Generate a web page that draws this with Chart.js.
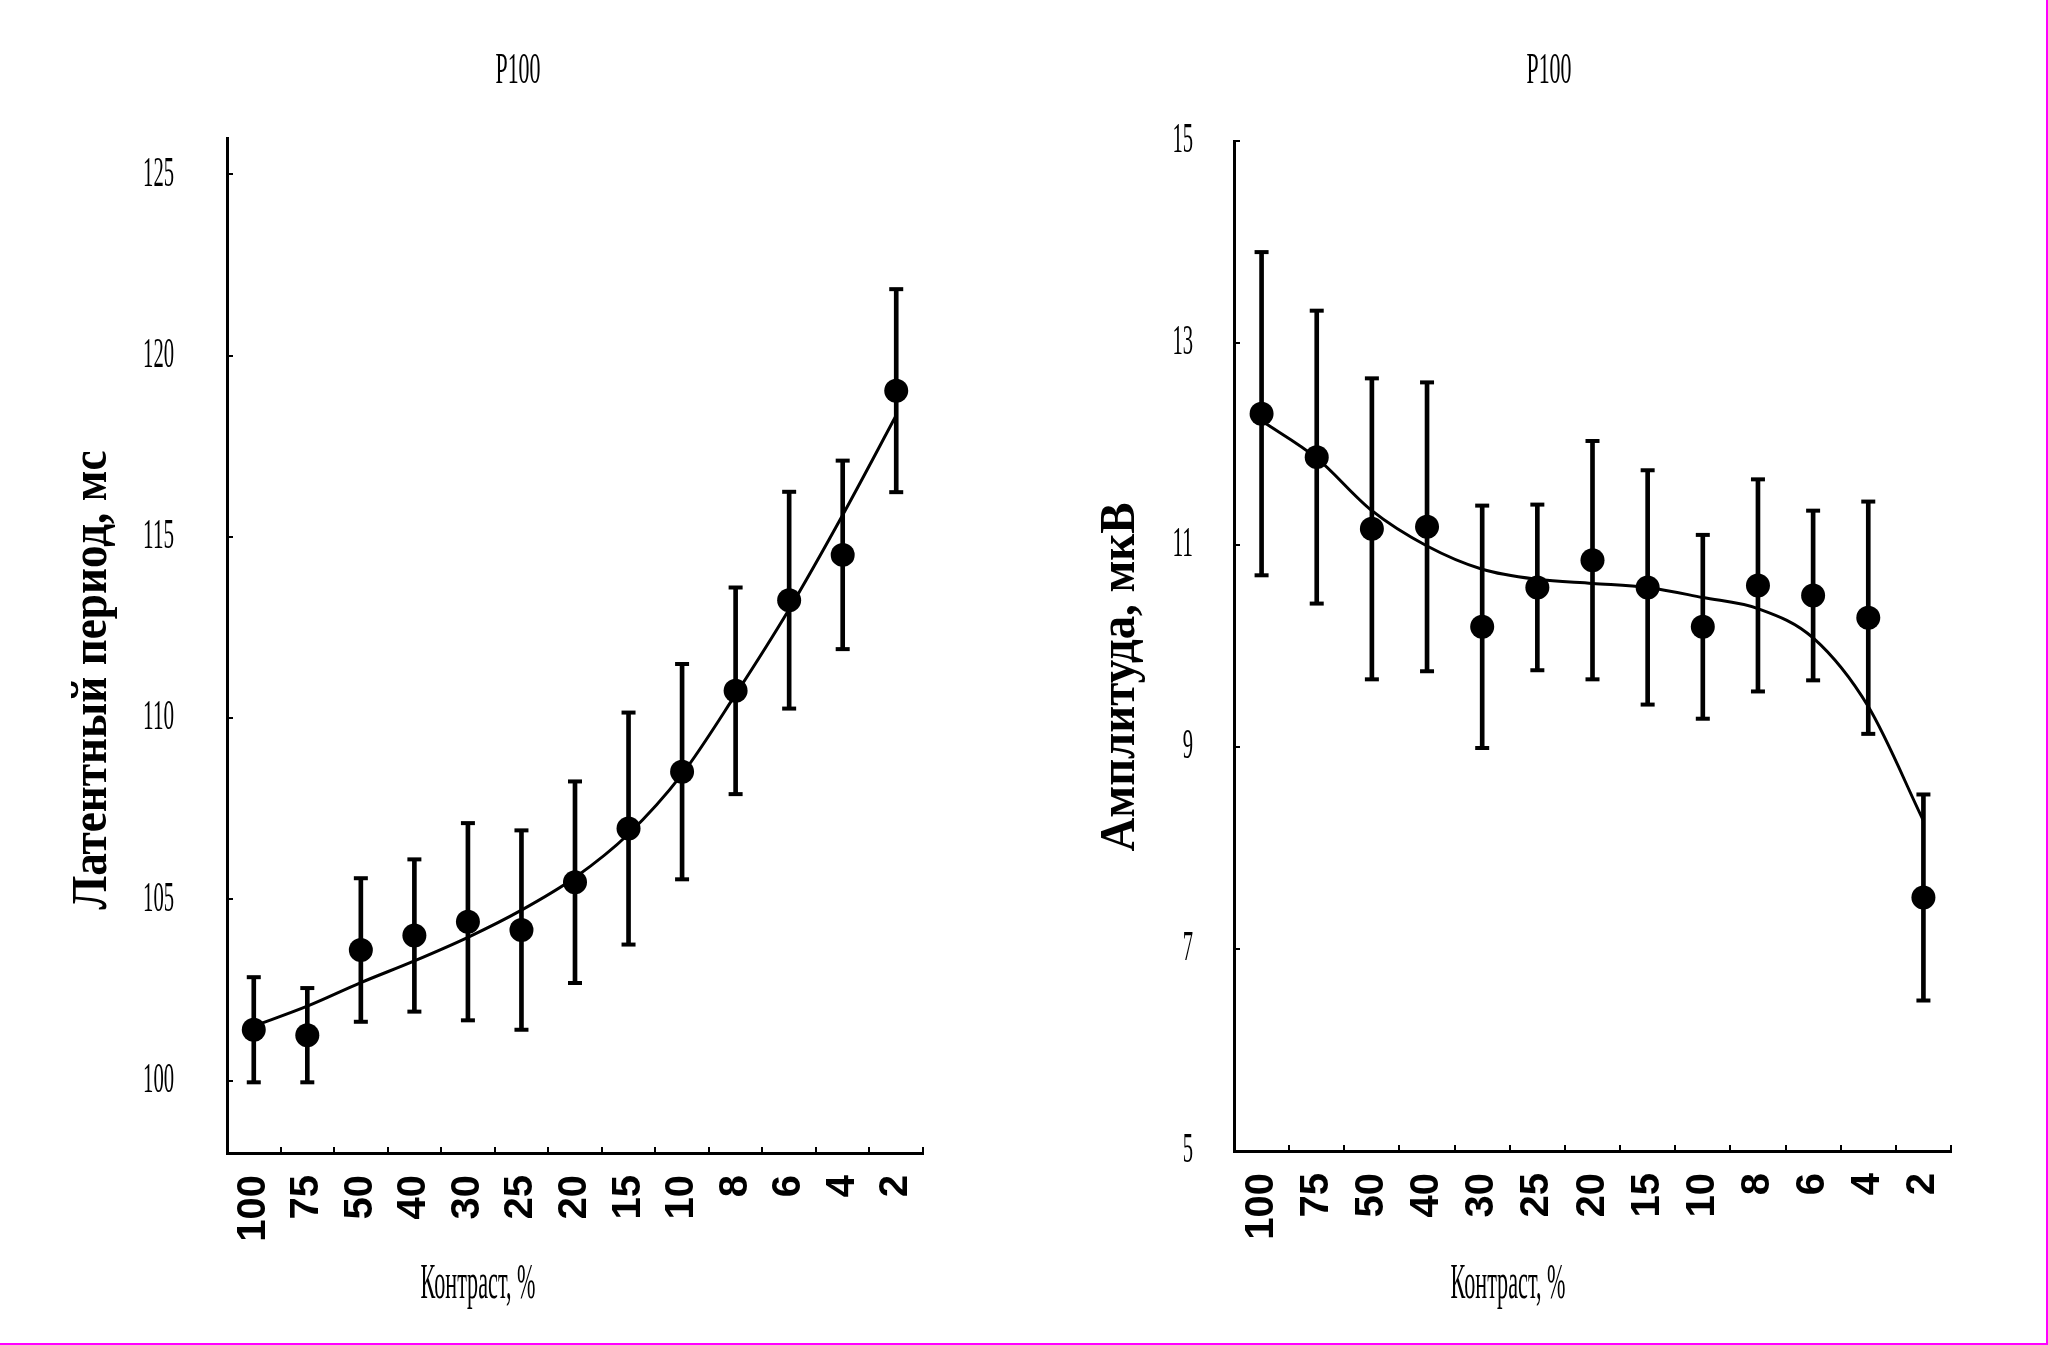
<!DOCTYPE html>
<html>
<head>
<meta charset="utf-8">
<script src="https://cdn.jsdelivr.net/npm/chart.js@4.4.1/dist/chart.umd.min.js"></script>
<style>
  html, body { margin: 0; padding: 0; background: #fff; }
  #page { position: relative; width: 2048px; height: 1345px; overflow: hidden; background: #fff; }
  #left { position: absolute; left: 0; top: 0; }
  #right { position: absolute; left: 1024px; top: 0; }
  #frame { position: absolute; left: 0; top: 0; width: 2048px; height: 1345px; box-sizing: border-box;
           border-right: 2px solid #f0f; border-bottom: 2px solid #f0f; pointer-events: none; }
</style>
</head>
<body>
<div id="page">
  <canvas id="left" width="1036" height="1345"></canvas>
  <canvas id="right" width="1022" height="1345"></canvas>
  <div id="frame"></div>
</div>
<script>
// contrast levels, %
var contrast = ['100', '75', '50', '40', '30', '25', '20', '15', '10', '8', '6', '4', '2'];

// P100 latency, ms
var latencyMean = [101.4, 101.25, 103.6, 104.0, 104.38, 104.15, 105.47, 106.95, 108.52, 110.75, 113.25, 114.5, 119.03];
var latencyErr  = [1.45, 1.3, 1.98, 2.1, 2.72, 2.75, 2.78, 3.2, 2.97, 2.85, 2.99, 2.6, 2.8];
var latencyFit  = [101.5, 102.05, 102.7, 103.3, 103.95, 104.7, 105.6, 106.8, 108.45, 110.65, 113.0, 115.6, 118.35];
var latencyTicks = [100, 105, 110, 115, 120, 125];

// P100 amplitude, uV
var ampMean = [12.3, 11.87, 11.16, 11.18, 10.19, 10.58, 10.85, 10.58, 10.19, 10.6, 10.5, 10.28, 7.51];
var ampErr  = [1.6, 1.45, 1.49, 1.43, 1.2, 0.82, 1.18, 1.16, 0.91, 1.05, 0.84, 1.15, 1.02];
var ampFit  = [12.23, 11.86, 11.34, 10.99, 10.76, 10.66, 10.62, 10.58, 10.48, 10.37, 10.08, 9.4, 8.27];
var ampTicks = [5, 7, 9, 11, 13, 15];

// text squeezed to a given width (the original lettering is a narrow Times)
function squeezeText(ctx, text, x, y, font, width, align, angle) {
  ctx.save();
  ctx.font = font;
  var sx = width / ctx.measureText(text).width;
  ctx.translate(x, y);
  if (angle) ctx.rotate(angle);
  ctx.scale(sx, 1);
  ctx.fillStyle = '#000';
  ctx.textAlign = align;
  ctx.textBaseline = 'middle';
  ctx.fillText(text, 0, 0);
  ctx.restore();
}

var captions = {
  id: 'captions',
  afterDraw: function(chart, args, o) {
    var ctx = chart.ctx;
    var area = chart.chartArea;
    var yScale = chart.scales.y;
    squeezeText(ctx, 'P100', o.titleX, 71, '44px "Liberation Serif"', 45, 'center');
    o.ticks.forEach(function(v) {
      var s = String(v);
      squeezeText(ctx, s, area.left - o.tickGap, yScale.getPixelForValue(v), '43px "Liberation Serif"', 10.3 * s.length, 'right');
    });
    squeezeText(ctx, o.yTitle, o.yTitleX, o.yTitleY, 'bold 50px "Liberation Serif"', o.yTitleLen, 'center', -Math.PI / 2);
    squeezeText(ctx, 'Контраст, %', o.xTitleX, 1285, '50px "Liberation Serif"', 115, 'center');
  }
};

function makeChart(id, means, errs, fit, ticks, yMin, yMax, box, cap) {
  var low = means.map(function(m, i) { return +(m - errs[i]).toFixed(2); });
  var high = means.map(function(m, i) { return +(m + errs[i]).toFixed(2); });
  var bars = means.map(function(m, i) { return [low[i], high[i]]; });

  return new Chart(document.getElementById(id), {
    type: 'line',
    data: {
      labels: contrast,
      datasets: [
        { type: 'line', data: means, showLine: false, pointRadius: 12, pointBackgroundColor: '#000',
          pointBorderWidth: 0, order: 0 },
        { type: 'line', data: high, showLine: false, pointStyle: 'line', pointRadius: 7,
          pointBorderColor: '#000', pointBorderWidth: 4, order: 1 },
        { type: 'line', data: low, showLine: false, pointStyle: 'line', pointRadius: 7,
          pointBorderColor: '#000', pointBorderWidth: 4, order: 1 },
        { type: 'bar', data: bars, backgroundColor: '#000', barThickness: 4, order: 2 },
        { type: 'line', data: fit, borderColor: '#000', borderWidth: 3, pointRadius: 0,
          cubicInterpolationMode: 'monotone', order: 3 }
      ]
    },
    options: {
      responsive: false,
      animation: false,
      devicePixelRatio: 1,
      layout: { padding: { left: 0, top: box.top, right: box.right, bottom: 0 } },
      plugins: {
        legend: { display: false },
        tooltip: { enabled: false },
        captions: cap
      },
      scales: {
        x: {
          type: 'category',
          offset: true,
          border: { display: true, color: '#000', width: 3 },
          grid: { offset: true, drawOnChartArea: false, drawTicks: true, tickLength: -6, color: '#000', lineWidth: 2 },
          ticks: { color: '#000', autoSkip: false, minRotation: 90, maxRotation: 90, padding: 28,
                   font: { family: '"Liberation Sans"', weight: 'bold', size: 40 } },
          afterFit: function(s) { s.height = box.xHeight; }
        },
        y: {
          min: yMin,
          max: yMax,
          border: { display: true, color: '#000', width: 3 },
          grid: { drawOnChartArea: false, drawTicks: true, tickLength: -6, color: '#000', lineWidth: 2 },
          ticks: { display: false },
          afterBuildTicks: function(s) { s.ticks = ticks.map(function(v) { return { value: v }; }); },
          afterFit: function(s) { s.width = box.yWidth; }
        }
      }
    },
    plugins: [captions]
  });
}

makeChart('left', latencyMean, latencyErr, latencyFit, latencyTicks, 98, 126,
  { top: 138, right: 113, xHeight: 192, yWidth: 227 },
  { titleX: 518, ticks: latencyTicks, tickGap: 53, yTitle: 'Латентный период, мс',
    yTitleX: 93, yTitleY: 680, yTitleLen: 459, xTitleX: 478 });

makeChart('right', ampMean, ampErr, ampFit, ampTicks, 5, 15,
  { top: 141, right: 95, xHeight: 194, yWidth: 210 },
  { titleX: 525, ticks: ampTicks, tickGap: 41, yTitle: 'Амплитуда, мкВ',
    yTitleX: 97, yTitleY: 677, yTitleLen: 349, xTitleX: 484 });
</script>
</body>
</html>
